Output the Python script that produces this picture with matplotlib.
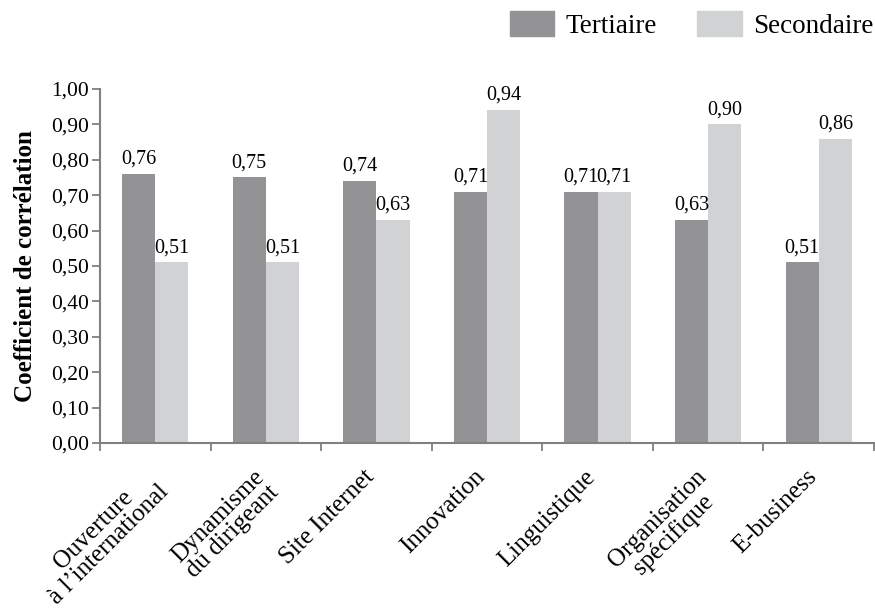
import numpy as np
import matplotlib
matplotlib.use('Agg')
import matplotlib.pyplot as plt
import matplotlib.transforms as mtrans
from matplotlib.patches import Patch

categories = ['Ouverture\nà l\u2019international', 'Dynamisme\ndu dirigeant', 'Site Internet',
              'Innovation', 'Linguistique', 'Organisation\nspécifique', 'E-business']
tertiaire = [0.76, 0.75, 0.74, 0.71, 0.71, 0.63, 0.51]
secondaire = [0.51, 0.51, 0.63, 0.94, 0.71, 0.90, 0.86]

plt.rcParams['font.family'] = ['Liberation Serif', 'DejaVu Serif']

dark = '#939396'
light = '#d1d2d4'
axis_col = '#808080'

fig = plt.figure(figsize=(8.75, 6.09), dpi=100)
ax = fig.add_axes([0.1143, 0.2726, 0.8846, 0.5813])

x = np.arange(len(categories))
w = 0.3
ax.bar(x - w / 2, tertiaire, w, color=dark)
ax.bar(x + w / 2, secondaire, w, color=light)

for i in range(len(categories)):
    ax.text(x[i] - w / 2, tertiaire[i] + 0.015, ('%.2f' % tertiaire[i]).replace('.', ','),
            ha='center', va='bottom', fontsize=14.5)
    ax.text(x[i] + w / 2, secondaire[i] + 0.015, ('%.2f' % secondaire[i]).replace('.', ','),
            ha='center', va='bottom', fontsize=14.5)

ax.set_xlim(-0.5, len(categories) - 0.5)
ax.set_ylim(0, 1.0)
yt = np.arange(0, 1.01, 0.1)
ax.set_yticks(yt)
ax.set_yticklabels([('%.2f' % v).replace('.', ',') for v in yt], fontsize=15.5)

# category boundaries as ticks, labels at centres
ax.set_xticks(np.arange(-0.5, len(categories), 1.0))
ax.set_xticklabels([])
ax.set_xticks(x, minor=True)
ax.set_xticklabels(categories, minor=True, rotation=45, ha='right', va='top',
                   rotation_mode='anchor', multialignment='center', fontsize=18,
                   linespacing=0.95)
ax.tick_params(axis='x', which='minor', length=0, pad=20)
ax.tick_params(axis='x', which='major', length=6, width=1.3, color=axis_col)
ax.tick_params(axis='y', length=6, width=1.3, color=axis_col, pad=2)

shift = mtrans.ScaledTranslation(-13 / 100, 5 / 100, fig.dpi_scale_trans)
for lab in ax.get_xticklabels(minor=True):
    lab.set_transform(lab.get_transform() + shift)

for s in ['top', 'right']:
    ax.spines[s].set_visible(False)
for s in ['left', 'bottom']:
    ax.spines[s].set_color(axis_col)
    ax.spines[s].set_linewidth(1.5)

ax.set_ylabel('Coefficient de corrélation', fontsize=18, fontweight='bold', labelpad=10)

handles = [Patch(color=dark, label='Tertiaire'), Patch(color=light, label='Secondaire')]
fig.legend(handles=handles, loc='center right', bbox_to_anchor=(873 / 875, 1 - 25 / 609), ncol=2,
           frameon=False, fontsize=19.5, handlelength=1.65, handleheight=1.0,
           columnspacing=1.5, handletextpad=0.4, borderpad=0, borderaxespad=0)

fig.savefig('out.png', dpi=100)
